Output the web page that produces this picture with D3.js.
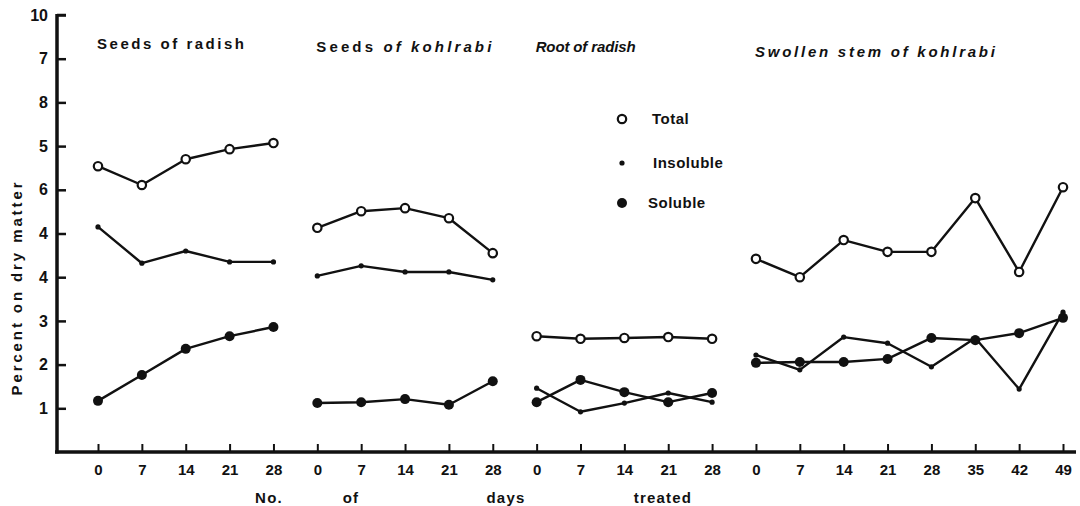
<!DOCTYPE html>
<html>
<head>
<meta charset="utf-8">
<script src="https://cdn.jsdelivr.net/npm/d3@7"></script>
<style>
  body { margin: 0; background: #fff; }
  text { font-family: "Liberation Sans", Arial, sans-serif; font-weight: bold; fill: #111; }
</style>
</head>
<body>
<svg id="chart" width="1080" height="506"></svg>
<script>
// values, in units of the y axis tick spacing
var panelTitles = ["Seeds of  radish", "Seeds of kohlrabi", "Root of radish", "Swollen stem of kohlrabi"];
var panelDays = [[0, 7, 14, 21, 28], [0, 7, 14, 21, 28], [0, 7, 14, 21, 28], [0, 7, 14, 21, 28, 35, 42, 49]];
var total = [
  [6.54, 6.11, 6.70, 6.93, 7.07],
  [5.13, 5.51, 5.58, 5.35, 4.55],
  [2.65, 2.59, 2.61, 2.63, 2.59],
  [4.42, 4.00, 4.85, 4.58, 4.58, 5.81, 4.12, 6.06]
];
var insoluble = [
  [5.15, 4.32, 4.60, 4.35, 4.35],
  [4.03, 4.26, 4.12, 4.12, 3.94],
  [1.46, 0.92, 1.12, 1.35, 1.14],
  [2.22, 1.88, 2.63, 2.49, 1.95, 2.61, 1.44, 3.20]
];
var soluble = [
  [1.17, 1.76, 2.36, 2.65, 2.86],
  [1.12, 1.14, 1.21, 1.08, 1.62],
  [1.14, 1.65, 1.37, 1.14, 1.35],
  [2.04, 2.06, 2.06, 2.13, 2.61, 2.56, 2.72, 3.07]
];
// tick labels as printed on the scan
var yTickLabels = ["1", "2", "3", "4", "4", "6", "5", "8", "7", "10"];
var legendLabels = ["Total", "Insoluble", "Soluble"];
var xTitleWords = ["No.", "of", "days", "treated"];

var svg = d3.select('#chart');
var FONT = '"Liberation Sans", Arial, sans-serif';

// one slot per tick along the bottom
var slots = [];
panelDays.forEach(function(days, p) {
  days.forEach(function(d, i) { slots.push({ panel: p, i: i, day: d, key: p + '-' + i }); });
});

var x = d3.scalePoint().domain(slots.map(function(s) { return s.key; })).range([98, 1063]);
var y = d3.scaleLinear().domain([0, 10]).range([452, 15]);

// axes
var yAxis = d3.axisLeft(y)
  .tickValues(d3.range(1, 11))
  .tickSize(-9)
  .tickPadding(9)
  .tickFormat(function(d, i) { return yTickLabels[i]; });
var gy = svg.append('g').attr('transform', 'translate(57,0)').call(yAxis);
gy.select('.domain').remove();
gy.selectAll('.tick line').attr('stroke', '#111').attr('stroke-width', 2.5);
gy.selectAll('.tick text').attr('font-size', 16).attr('font-family', FONT).attr('font-weight', 'bold').attr('fill', '#111');

var xAxis = d3.axisBottom(x)
  .tickSize(-8)
  .tickPadding(12)
  .tickFormat(function(k) { return slots.find(function(s) { return s.key === k; }).day; });
var gx = svg.append('g').attr('transform', 'translate(0,' + y(0) + ')').call(xAxis);
gx.select('.domain').remove();
gx.selectAll('.tick line').attr('stroke', '#111').attr('stroke-width', 2);
gx.selectAll('.tick text').attr('font-size', 15).attr('font-family', FONT).attr('font-weight', 'bold').attr('fill', '#111');

// axis lines
svg.append('line').attr('x1', 57).attr('x2', 57).attr('y1', y(10) - 1).attr('y2', y(0) + 1.5)
  .attr('stroke', '#111').attr('stroke-width', 3.5);
svg.append('line').attr('x1', 55).attr('x2', 1076).attr('y1', y(0)).attr('y2', y(0))
  .attr('stroke', '#111').attr('stroke-width', 3.5);
svg.append('line').attr('x1', 57).attr('x2', 66).attr('y1', y(10)).attr('y2', y(10))
  .attr('stroke', '#111').attr('stroke-width', 2.5);

// y title
svg.append('text')
  .attr('transform', 'translate(22,289) rotate(-90)')
  .attr('text-anchor', 'middle')
  .attr('font-size', 15)
  .attr('textLength', 213)
  .attr('lengthAdjust', 'spacing')
  .text('Percent on dry matter');

// x title, spread word by word under the ticks
var xTitleX = [269, 351, 506, 663];
xTitleWords.forEach(function(w, i) {
  svg.append('text')
    .attr('x', xTitleX[i]).attr('y', 503)
    .attr('text-anchor', 'middle')
    .attr('font-size', 15)
    .attr('letter-spacing', 1.2)
    .text(w);
});

// panel titles
var titleWidths = [147, 175, 100, 240];
panelTitles.forEach(function(t, p) {
  var x0 = x(p + '-0') - 1;
  var yb = p === 3 ? 57 : (p === 0 ? 49 : 52);
  var txt = svg.append('text')
    .attr('x', x0).attr('y', yb)
    .attr('font-size', 15)
    .attr('textLength', titleWidths[p])
    .attr('lengthAdjust', 'spacing');
  if (p === 0) {
    txt.text(t);
  } else if (p === 1) {
    txt.append('tspan').text('Seeds ');
    txt.append('tspan').attr('font-style', 'italic').text('of kohlrabi');
  } else {
    txt.attr('font-style', 'italic').text(t);
  }
});

// series lines
var line = d3.line()
  .x(function(d) { return x(d.key); })
  .y(function(d) { return y(d.v); });

function seriesPoints(arr, p) {
  return arr[p].map(function(v, i) { return { key: p + '-' + i, v: v }; });
}

var series = [
  { name: 'total', data: total },
  { name: 'insoluble', data: insoluble },
  { name: 'soluble', data: soluble }
];

series.forEach(function(s) {
  panelDays.forEach(function(days, p) {
    svg.append('path')
      .datum(seriesPoints(s.data, p))
      .attr('d', line)
      .attr('fill', 'none')
      .attr('stroke', '#111')
      .attr('stroke-width', 2.4)
      .attr('stroke-linejoin', 'round');
  });
});

function drawMarker(sel, name) {
  if (name === 'total') {
    sel.append('circle').attr('r', 4.2).attr('fill', '#fff').attr('stroke', '#111').attr('stroke-width', 2.2);
  } else if (name === 'insoluble') {
    sel.append('circle').attr('r', 2.6).attr('fill', '#111');
  } else {
    sel.append('circle').attr('r', 5).attr('fill', '#111');
  }
}

series.forEach(function(s) {
  panelDays.forEach(function(days, p) {
    svg.selectAll(null)
      .data(seriesPoints(s.data, p))
      .enter()
      .append('g')
      .attr('transform', function(d) { return 'translate(' + x(d.key) + ',' + y(d.v) + ')'; })
      .each(function() { drawMarker(d3.select(this), s.name); });
  });
});

// legend
var legendY = [119, 163, 203];
var legendTextX = [652, 653, 648];
series.forEach(function(s, i) {
  var g = svg.append('g').attr('transform', 'translate(622,' + legendY[i] + ')');
  drawMarker(g, s.name);
  svg.append('text')
    .attr('x', legendTextX[i]).attr('y', legendY[i] + 5)
    .attr('font-size', 15)
    .attr('letter-spacing', 0.5)
    .text(legendLabels[i]);
});
</script>
</body>
</html>
